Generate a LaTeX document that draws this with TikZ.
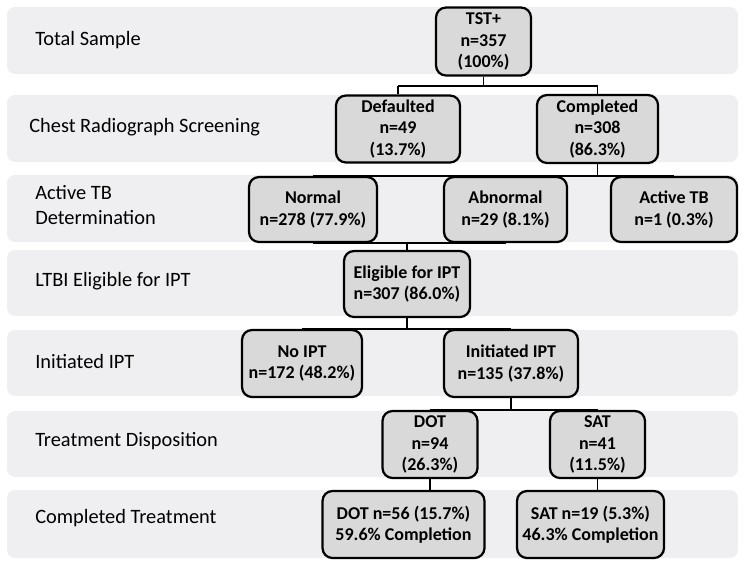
\documentclass[tikz,border=0pt]{standalone}
\usepackage{fontspec}
\setmainfont{Carlito}
\usetikzlibrary{positioning, calc}

\definecolor{bandgray}{RGB}{239,239,241}
\definecolor{boxgray}{RGB}{217,217,217}

\tikzset{
	band/.style={fill=bandgray, rounded corners=0.2cm},
	rowlabel/.style={anchor=west, inner sep=0pt, align=left, font=\fontsize{14.5}{17.5}\selectfont},
	box/.style 2 args={draw, line width=1.6pt, fill=boxgray, rounded corners=0.25cm, align=center, inner sep=0pt,
		minimum width=#1*0.025cm, minimum height=#2*0.025cm, font=\bfseries\fontsize{12.8}{15}\selectfont},
	link/.style={line width=1.4pt}
}

\begin{document}
\begin{tikzpicture}[x=0.025cm, y=-0.025cm]
		\useasboundingbox (0,0) rectangle (750,567);
		% row bands
		\foreach \top/\bot in {7/74, 95/162, 175/242, 250/316, 330/396, 411/477, 490/558}
			\fill[band] (7,\top) rectangle (738,\bot);
		% row labels
		\node[rowlabel] (lsample)   at (35,40)  {Total Sample};
		\node[rowlabel] (lchest)    at (29,127) {Chest Radiograph Screening};
		\node[rowlabel] (lactive)   at (35,205) {Active TB\\Determination};
		\node[rowlabel] (lltbi)     at (35,281) {LTBI Eligible for IPT};
		\node[rowlabel] (linit)     at (35,361) {Initiated IPT};
		\node[rowlabel] (ldisp)     at (35,441) {Treatment Disposition};
		\node[rowlabel] (ldone)     at (35,518) {Completed Treatment};
		% boxes
		\node[box={95}{68}]  (tst)       at (483.5,41.5) {TST+\\n=357\\(100\%)};
		\node[box={124}{67}] (defaulted) at (398,129)    {Defaulted\\n=49\\(13.7\%)};
		\node[box={121}{68}] (completed) at (597.5,129)  {Completed\\n=308\\(86.3\%)};
		\node[box={128}{65}] (normal)    at (313,209.5)  {Normal\\n=278 (77.9\%)};
		\node[box={123}{65}] (abnormal)  at (505.5,209.5) {Abnormal\\n=29 (8.1\%)};
		\node[box={126}{65}] (activetb)  at (674,209.5)  {Active TB\\n=1 (0.3\%)};
		\node[box={126}{66}] (eligible)  at (407,284)    {Eligible for IPT\\n=307 (86.0\%)};
		\node[box={120}{67}] (noipt)     at (302,363.5)  {No IPT\\n=172 (48.2\%)};
		\node[box={134}{67}] (initiated) at (511,363.5)  {Initiated IPT\\n=135 (37.8\%)};
		\node[box={95}{67}]  (dot)       at (430,444.5)  {DOT\\n=94\\(26.3\%)};
		\node[box={95}{67}]  (sat)       at (597.5,444.5) {SAT\\n=41\\(11.5\%)};
		\node[box={162}{67}] (dotdone)   at (403.5,524.5) {DOT n=56 (15.7\%)\\59.6\% Completion};
		\node[box={147}{67}] (satdone)   at (590.5,524.5) {SAT n=19 (5.3\%)\\46.3\% Completion};
		% connectors
		\draw[link] (tst.south) -- ++(0,9) coordinate (tbar);
		\draw[link] (tbar -| defaulted.north) -- (tbar -| completed.north);
		\foreach \n in {defaulted, completed}
			\draw[link] (tbar -| \n.north) -- (\n.north);
		\draw[link] (completed.south) -- ++(0,12) coordinate (cbar);
		\draw[link] (cbar -| normal.north) -- (cbar -| activetb.north);
		\foreach \n in {normal, abnormal, activetb}
			\draw[link] (cbar -| \n.north) -- (\n.north);
		\draw[link] (normal.south) -- (abnormal.south);
		\draw[link] (eligible.north |- normal.south) -- (eligible.north);
		\draw[link] (eligible.south) -- (eligible.south |- noipt.north);
		\draw[link] (noipt.north) -- (initiated.north);
		\draw[link] (initiated.south) -- (initiated.south |- dot.north);
		\draw[link] (dot.north) -- (sat.north);
		\foreach \from/\to in {dot/dotdone, sat/satdone}
			\draw[link] (\from.south) -- (\from.south |- \to.north);
	\end{tikzpicture}
\end{document}
